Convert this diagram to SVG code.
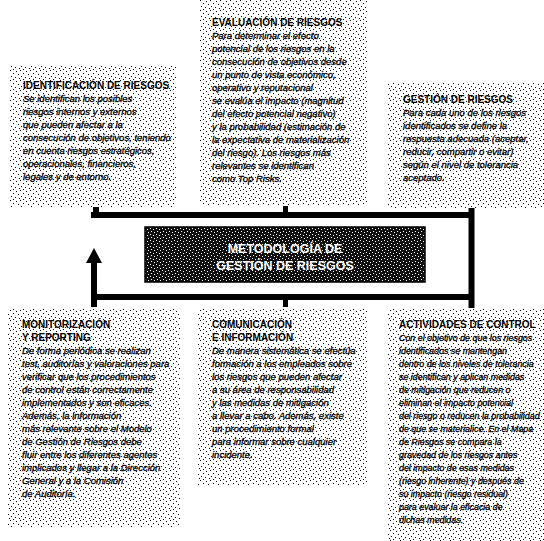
<svg xmlns="http://www.w3.org/2000/svg" width="544" height="541" viewBox="0 0 544 541">
<defs>
<pattern id="speck" width="10" height="10" patternUnits="userSpaceOnUse">
<rect width="10" height="10" fill="#ffffff"/>
<rect x="0" y="0" width="1" height="1" fill="#000"/>
<rect x="6" y="1" width="1" height="1" fill="#000"/>
<rect x="3" y="3" width="1" height="1" fill="#000"/>
<rect x="8" y="4" width="1" height="1" fill="#000"/>
<rect x="1" y="6" width="1" height="1" fill="#000"/>
<rect x="5" y="7" width="1" height="1" fill="#000"/>
<rect x="9" y="8" width="1" height="1" fill="#000"/>
<rect x="3" y="9" width="1" height="1" fill="#000"/>
</pattern>
<pattern id="darkspeck" width="6" height="6" patternUnits="userSpaceOnUse">
<rect width="6" height="6" fill="#111"/>
<rect x="0" y="0" width="1" height="1" fill="#fff"/>
<rect x="3" y="1" width="1" height="1" fill="#fff"/>
<rect x="1" y="3" width="1" height="1" fill="#fff"/>
<rect x="4" y="4" width="1" height="1" fill="#fff"/>
</pattern>
<marker id="arrow" viewBox="0 0 16 16" refX="1" refY="8" markerWidth="16" markerHeight="16" markerUnits="userSpaceOnUse" orient="auto">
<path d="M0,0 L15,8 L0,16 Z" fill="#000"/>
</marker>
<style>
.bg{fill:url(#speck);}
.t{font-family:"Liberation Sans",Arial,sans-serif;font-size:10px;font-weight:bold;fill:#000;}
.b{font-family:"Liberation Sans",Arial,sans-serif;font-size:9.5px;font-style:italic;fill:#000;stroke:#000;stroke-width:0.3;}
.s{font-size:8.9px;}
.ln{stroke:#000;stroke-width:6;fill:none;}
.center{font-family:"Liberation Sans",Arial,sans-serif;font-size:12.5px;font-weight:bold;fill:#fff;text-anchor:middle;}
</style>
</defs>
<rect width="544" height="541" fill="#fff"/>

<g id="connectors">
<line class="ln" x1="91" y1="215" x2="474" y2="215"/>
<line class="ln" x1="96" y1="204" x2="96" y2="218"/>
<rect x="283" y="205" width="5" height="10" fill="#000"/>
<line class="ln" x1="471.5" y1="204" x2="471.5" y2="308"/>
<line class="ln" x1="91" y1="297" x2="474" y2="297"/>
<rect x="283" y="297" width="5" height="10" fill="#000"/>
<line class="ln" x1="94" y1="307" x2="94" y2="262" marker-end="url(#arrow)"/>
</g>

<g id="metodologia">
<rect x="145" y="227" width="280" height="55" fill="url(#darkspeck)" stroke="#000" stroke-width="1.5"/>
<text class="center" x="285" y="253">METODOLOGÍA DE</text>
<text class="center" x="285" y="270">GESTIÓN DE RIESGOS</text>
</g>

<g id="evaluacion">
<rect class="bg" x="200" y="0" width="168" height="206"/>
<text x="212" y="25.5"><tspan class="t">EVALUACIÓN DE RIESGOS</tspan><tspan class="b" x="212" dy="13">Para determinar el efecto</tspan><tspan class="b" x="212" dy="13">potencial de los riesgos en la</tspan><tspan class="b" x="212" dy="13">consecución de objetivos desde</tspan><tspan class="b" x="212" dy="13">un punto de vista económico,</tspan><tspan class="b" x="212" dy="13">operativo y reputacional</tspan><tspan class="b" x="212" dy="13">se evalúa el impacto (magnitud</tspan><tspan class="b" x="212" dy="13">del efecto potencial negativo)</tspan><tspan class="b" x="212" dy="13">y la probabilidad (estimación de</tspan><tspan class="b" x="212" dy="13">la expectativa de materialización</tspan><tspan class="b" x="212" dy="13">del riesgo). Los riesgos más</tspan><tspan class="b" x="212" dy="13">relevantes se identifican</tspan><tspan class="b" x="212" dy="13">como Top Risks.</tspan></text>
</g>

<g id="identificacion">
<rect class="bg" x="10" y="66" width="166" height="141"/>
<text x="23" y="88.5"><tspan class="t">IDENTIFICACIÓN DE RIESGOS</tspan><tspan class="b" x="23" dy="13">Se identifican los posibles</tspan><tspan class="b" x="23" dy="13">riesgos internos y externos</tspan><tspan class="b" x="23" dy="13">que pueden afectar a la</tspan><tspan class="b" x="23" dy="13">consecución de objetivos, teniendo</tspan><tspan class="b" x="23" dy="13">en cuenta riesgos estratégicos,</tspan><tspan class="b" x="23" dy="13">operacionales, financieros,</tspan><tspan class="b" x="23" dy="13">legales y de entorno.</tspan></text>
</g>

<g id="gestion">
<rect class="bg" x="387" y="82" width="157" height="126"/>
<text x="403" y="102.5"><tspan class="t">GESTIÓN DE RIESGOS</tspan><tspan class="b" x="403" dy="13">Para cada uno de los riesgos</tspan><tspan class="b" x="403" dy="13">identificados se define la</tspan><tspan class="b" x="403" dy="13">respuesta adecuada (aceptar,</tspan><tspan class="b" x="403" dy="13">reducir, compartir o evitar)</tspan><tspan class="b" x="403" dy="13">según el nivel de tolerancia</tspan><tspan class="b" x="403" dy="13">aceptado.</tspan></text>
</g>

<g id="monitorizacion">
<rect class="bg" x="7" y="309" width="173" height="218"/>
<text x="22" y="327.5"><tspan class="t">MONITORIZACIÓN</tspan><tspan class="t" x="22" dy="13">Y REPORTING</tspan><tspan class="b" x="22" dy="13">De forma periódica se realizan</tspan><tspan class="b" x="22" dy="13">test, auditorías y valoraciones para</tspan><tspan class="b" x="22" dy="13">verificar que los procedimientos</tspan><tspan class="b" x="22" dy="13">de control están correctamente</tspan><tspan class="b" x="22" dy="13">implementados y son eficaces.</tspan><tspan class="b" x="22" dy="13">Además, la información</tspan><tspan class="b" x="22" dy="13">más relevante sobre el Modelo</tspan><tspan class="b" x="22" dy="13">de Gestión de Riesgos debe</tspan><tspan class="b" x="22" dy="13">fluir entre los diferentes agentes</tspan><tspan class="b" x="22" dy="13">implicados y llegar a la Dirección</tspan><tspan class="b" x="22" dy="13">General y a la Comisión</tspan><tspan class="b" x="22" dy="13">de Auditoría.</tspan></text>
</g>

<g id="comunicacion">
<rect class="bg" x="198" y="309" width="170" height="177"/>
<text x="212" y="327.5"><tspan class="t">COMUNICACIÓN</tspan><tspan class="t" x="212" dy="13">E INFORMACIÓN</tspan><tspan class="b" x="212" dy="13">De manera sistemática se efectúa</tspan><tspan class="b" x="212" dy="13">formación a los empleados sobre</tspan><tspan class="b" x="212" dy="13">los riesgos que pueden afectar</tspan><tspan class="b" x="212" dy="13">a su área de responsabilidad</tspan><tspan class="b" x="212" dy="13">y las medidas de mitigación</tspan><tspan class="b" x="212" dy="13">a llevar a cabo. Además, existe</tspan><tspan class="b" x="212" dy="13">un procedimiento formal</tspan><tspan class="b" x="212" dy="13">para informar sobre cualquier</tspan><tspan class="b" x="212" dy="13">incidente.</tspan></text>
</g>

<g id="actividades">
<rect class="bg" x="387" y="309" width="157" height="232"/>
<text x="399" y="327.5"><tspan class="t">ACTIVIDADES DE CONTROL</tspan><tspan class="b s" x="399" dy="13">Con el objetivo de que los riesgos</tspan><tspan class="b s" x="399" dy="13">identificados se mantengan</tspan><tspan class="b s" x="399" dy="13">dentro de los niveles de tolerancia</tspan><tspan class="b s" x="399" dy="13">se identifican y aplican medidas</tspan><tspan class="b s" x="399" dy="13">de mitigación que reducen o</tspan><tspan class="b s" x="399" dy="13">eliminan el impacto potencial</tspan><tspan class="b s" x="399" dy="13">del riesgo o reducen la probabilidad</tspan><tspan class="b s" x="399" dy="13">de que se materialice. En el Mapa</tspan><tspan class="b s" x="399" dy="13">de Riesgos se compara la</tspan><tspan class="b s" x="399" dy="13">gravedad de los riesgos antes</tspan><tspan class="b s" x="399" dy="13">del impacto de esas medidas</tspan><tspan class="b s" x="399" dy="13">(riesgo inherente) y después de</tspan><tspan class="b s" x="399" dy="13">su impacto (riesgo residual)</tspan><tspan class="b s" x="399" dy="13">para evaluar la eficacia de</tspan><tspan class="b s" x="399" dy="13">dichas medidas.</tspan></text>
</g>
</svg>
